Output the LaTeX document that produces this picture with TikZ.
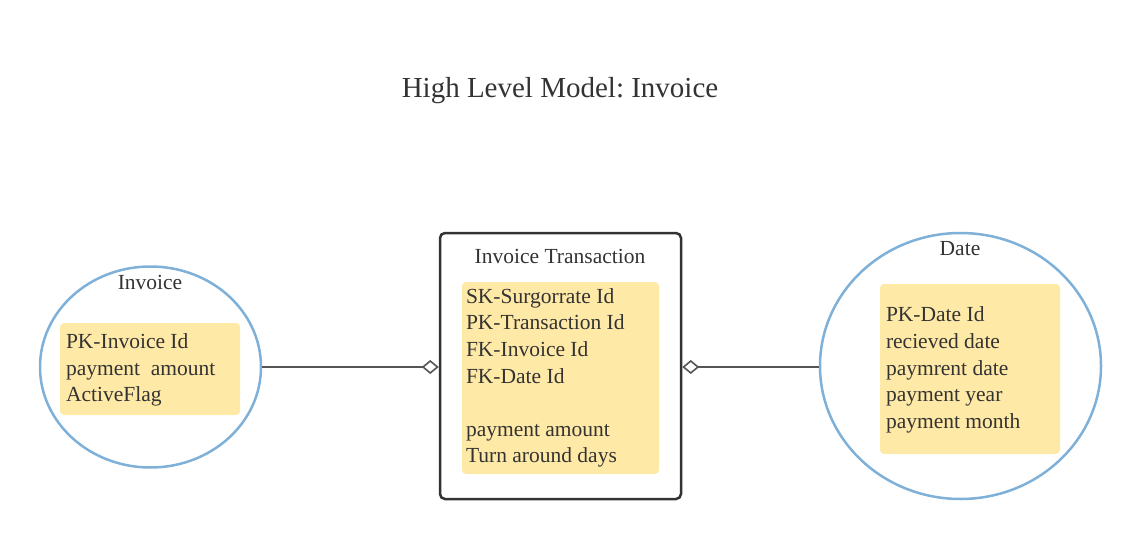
\documentclass[tikz,border=0pt]{standalone}
\usepackage{fontspec}
\setmainfont{Liberation Serif}
\usetikzlibrary{shapes.geometric,arrows.meta}
\frenchspacing
\definecolor{txt}{HTML}{333333}
\definecolor{ellblue}{HTML}{7FB0D8}
\definecolor{pad}{HTML}{FFE9A6}
\definecolor{frame}{HTML}{333333}
\definecolor{conn}{HTML}{555555}
\tikzset{
  entity/.style={ellipse, draw=ellblue, line width=2.5pt, inner sep=0pt},
  table/.style={rectangle, draw=frame, line width=2.5pt, rounded corners=5pt, inner sep=0pt},
  attrbox/.style={rectangle, fill=pad, rounded corners=4pt, inner sep=0pt},
  attrs/.style={align=left, text=txt, inner sep=0pt, font=\fontsize{21.5}{26.6}\selectfont},
  heading/.style={text=txt, inner sep=0pt, font=\fontsize{21.5}{26}\selectfont},
  link/.style={draw=conn, line width=1.6pt},
  dia/.tip={Diamond[open, length=17pt, width=14pt, line width=1.6pt]}
}
\begin{document}
\begin{tikzpicture}[x=1pt,y=-1pt]
\useasboundingbox (0,0) rectangle (1140,540);
\node[text=txt, font=\fontsize{29}{34}\selectfont, inner sep=0pt] (title) at (560,91) {High Level Model: Invoice};

% Invoice entity
\node[entity, minimum width=221pt, minimum height=201pt] (inv) at (150.5,367) {};
\node[heading] (invt) at (150,282) {Invoice};
\node[attrbox, minimum width=180pt, minimum height=92pt] (invb) at (150,369) {};
\node[attrs, anchor=west] (inva) at ([xshift=6pt,yshift=-1pt]invb.west) {PK-Invoice Id\\payment\ \ amount\\ActiveFlag};

% Transaction table
\node[table, minimum width=241pt, minimum height=266pt] (tr) at (560.5,366) {};
\node[heading] (trt) at (560,256) {Invoice Transaction};
\node[attrbox, minimum width=197pt, minimum height=192pt] (trb) at (560.5,378) {};
\node[attrs, anchor=west] (tra) at ([xshift=4pt]trb.west) {SK-Surgorrate Id\\PK-Transaction Id\\FK-Invoice Id\\FK-Date Id\\[26.6pt]payment amount\\Turn around days};

% Date entity
\node[entity, minimum width=281pt, minimum height=266pt] (dt) at (960.5,366) {};
\node[heading] (dtt) at (960,249) {Date};
\node[attrbox, minimum width=180pt, minimum height=170pt] (dtb) at (970,369) {};
\node[attrs, anchor=west] (dta) at ([xshift=6pt,yshift=-1pt]dtb.west) {PK-Date Id\\recieved date\\paymrent date\\payment year\\payment month};

% connectors
\draw[link, -dia] (inv.east) -- (inv.east -| tr.west);
\draw[link, dia-] (inv.east -| tr.east) -- (inv.east -| dt.west);
\end{tikzpicture}
\end{document}
